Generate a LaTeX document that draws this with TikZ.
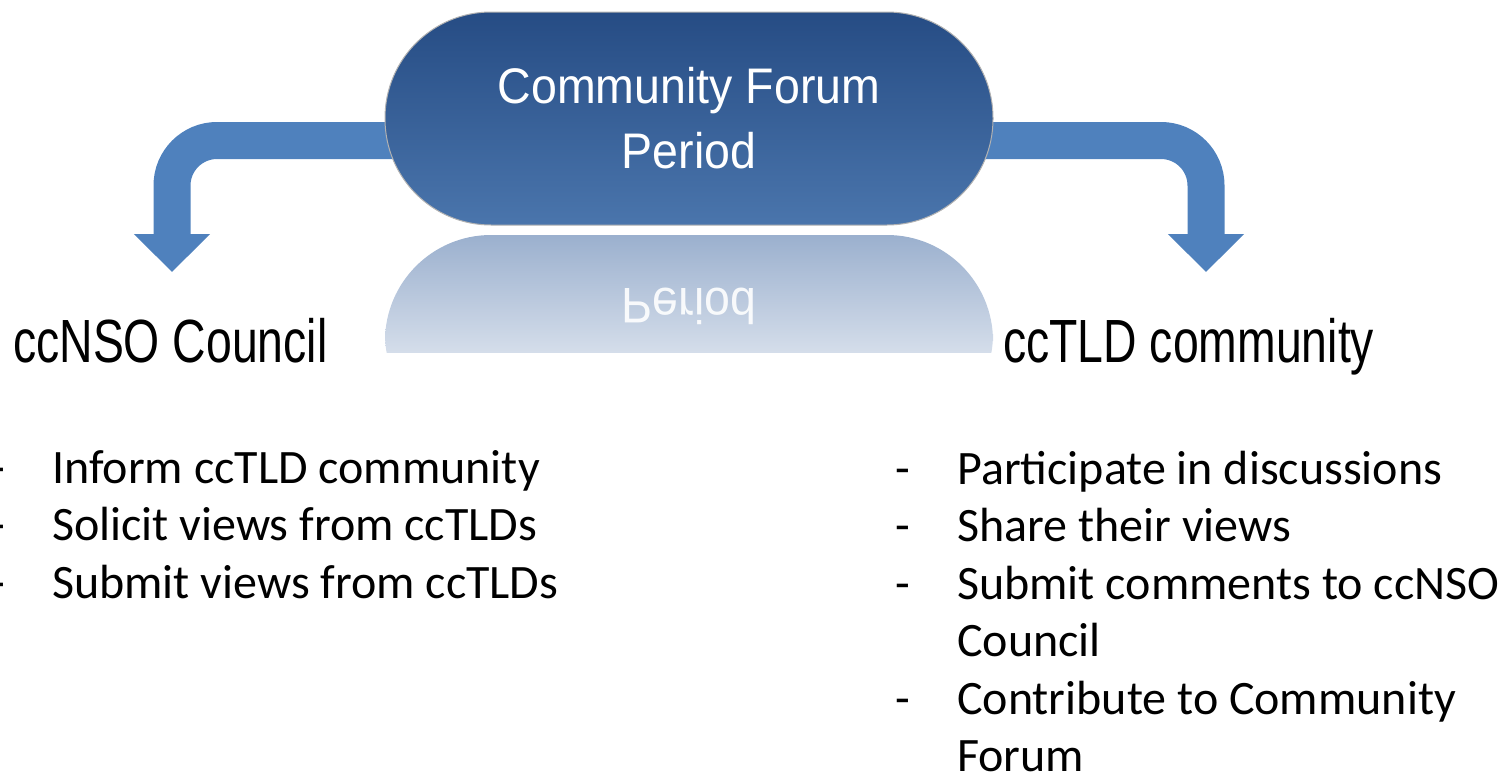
\documentclass[tikz,border=0pt]{standalone}
\usepackage{fontspec}
\setmainfont{Carlito}
\newfontfamily\headfont{Liberation Sans}[FakeStretch=0.76]
\newfontfamily\pillfont{Liberation Sans}[FakeStretch=0.93]
\usetikzlibrary{arrows.meta,positioning}

\definecolor{arrowblue}{RGB}{79,129,189}
\definecolor{pilltop}{RGB}{38,76,132}
\definecolor{pillbottom}{RGB}{74,117,172}
\definecolor{reflblue}{RGB}{155,176,206}

\begin{document}
\begin{tikzpicture}[
    x=1pt,y=-1pt,
    bentarrow/.style={draw=arrowblue,line width=37pt,rounded corners=45pt,-{Triangle[length=38pt,width=74pt]}},
    pillbox/.style={rectangle,draw=black!30,line width=1pt,rounded corners=106pt,minimum width=608pt,minimum height=213pt,top color=pilltop,bottom color=pillbottom,text=white,align=center,font=\pillfont\fontsize{50}{65}\selectfont},
    heading/.style={inner sep=0pt,anchor=base west,font=\headfont\fontsize{61}{70}\selectfont},
    bullets/.style={inner sep=0pt,anchor=base west,font=\fontsize{48}{57.5}\selectfont}
]
\useasboundingbox (0,0) rectangle (1501,771);

% arrow ends
\coordinate (lefttip) at (172,272);
\coordinate (righttip) at (1206,272);
\coordinate (pillmid) at (689,118.5);

\draw[bentarrow] ([yshift=-22pt]pillmid) -| (lefttip);
\draw[bentarrow] ([yshift=-22pt]pillmid) -| (righttip);

\node[pillbox] (pill) at (pillmid) {Community Forum\\Period};

% reflection under the pill
\begin{scope}
\clip (385,235) rectangle (993,352);
\shade[top color=reflblue,middle color=white,bottom color=white,rounded corners=106pt] (385,235) rectangle (993,440);
\end{scope}
\node[inner sep=0pt,anchor=base,text=white,opacity=0.9,yscale=-1,transform shape,font=\pillfont\fontsize{50}{65}\selectfont] (mirror) at (689,288) {Period};

\node[heading] (council) at (13,362) {ccNSO Council};
\node[heading] (community) at (1003,362) {ccTLD community};

\node[bullets] (councillist) at (-10,483) {\begin{tabular}[t]{@{}p{62pt}@{}l@{}}
- & Inform ccTLD community\\
- & Solicit views from ccTLDs\\
- & Submit views from ccTLDs
\end{tabular}};
\node[bullets] (communitylist) at (895,484) {\begin{tabular}[t]{@{}p{62pt}@{}l@{}}
- & Participate in discussions\\
- & Share their views\\
- & Submit comments to ccNSO\\
  & Council\\
- & Contribute to Community\\
  & Forum
\end{tabular}};
\end{tikzpicture}
\end{document}
